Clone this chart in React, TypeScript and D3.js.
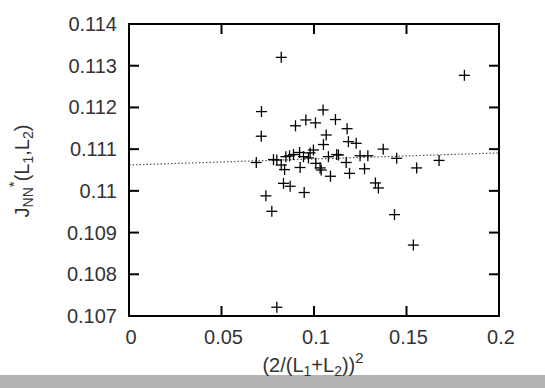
import React from "react";
import * as d3 from "d3";

const xs = [0.0823, 0.1813, 0.0716, 0.0715, 0.0688, 0.074, 0.0772, 0.0799, 0.09, 0.0956, 0.1008, 0.1049, 0.1116, 0.1179, 0.1066, 0.1051, 0.1186, 0.1228, 0.1374, 0.1447, 0.1676, 0.1555, 0.1435, 0.1537, 0.1332, 0.1348, 0.1273, 0.1291, 0.1249, 0.1192, 0.1174, 0.1123, 0.1132, 0.1089, 0.1033, 0.0997, 0.101, 0.1039, 0.1078, 0.0947, 0.0871, 0.0835, 0.0799, 0.0823, 0.0841, 0.0868, 0.0889, 0.0922, 0.0925, 0.0943, 0.097, 0.0979, 0.0848, 0.0781];
const ys = [0.1132, 0.11277, 0.1119, 0.11131, 0.11068, 0.10988, 0.10951, 0.10721, 0.11156, 0.1117, 0.11163, 0.11194, 0.11171, 0.11149, 0.11134, 0.11111, 0.11118, 0.11114, 0.111, 0.11078, 0.11073, 0.11055, 0.10943, 0.1087, 0.11019, 0.11007, 0.11053, 0.11084, 0.11084, 0.11042, 0.11068, 0.11087, 0.11086, 0.11035, 0.11055, 0.11098, 0.11066, 0.1105, 0.11082, 0.10996, 0.11011, 0.11018, 0.11074, 0.11062, 0.11051, 0.11084, 0.11087, 0.11092, 0.11056, 0.11082, 0.11079, 0.11091, 0.11082, 0.11075];

const fitX = [0, 0.2];
const fitY = [0.11062, 0.11091];

const xTicks = [0, 0.05, 0.1, 0.15, 0.2];
const xTickLabels = ["0", "0.05", "0.1", "0.15", "0.2"];
const yTicks = [0.107, 0.108, 0.109, 0.11, 0.111, 0.112, 0.113, 0.114];
const yTickLabels = ["0.107", "0.108", "0.109", "0.11", "0.111", "0.112", "0.113", "0.114"];

export default function App() {
  const W = 545, H = 388;
  const L = 129, R = 499, T = 24, B = 316;
  const x = d3.scaleLinear().domain([0, 0.2]).range([L, R]);
  const y = d3.scaleLinear().domain([0.107, 0.114]).range([B, T]);
  const line = d3.line<number>().x((_, i) => x(fitX[i])).y((_, i) => y(fitY[i]));
  const tl = 10;
  const arm = 5.5;
  const font = "'Liberation Sans', Arial, sans-serif";
  return (
    <svg width={W} height={H} style={{ position: "absolute", left: 0, top: 0, display: "block" }}>
      <rect x={0} y={0} width={W} height={H} fill="#fff" />
      <rect x={0} y={375} width={W} height={13} fill="#b4b4b4" />
      <path d={line(fitX) || ""} fill="none" stroke="#555" strokeWidth={1.2} strokeDasharray="1.5,2" />
      {xs.map((v, i) => (
        <g key={i} stroke="#000" strokeWidth={1.3}>
          <line x1={x(v) - arm} x2={x(v) + arm} y1={y(ys[i])} y2={y(ys[i])} />
          <line x1={x(v)} x2={x(v)} y1={y(ys[i]) - arm} y2={y(ys[i]) + arm} />
        </g>
      ))}
      {xTicks.slice(1, -1).map((t, i) => (
        <g key={"xt" + i} stroke="#000" strokeWidth={2}>
          <line x1={x(t)} x2={x(t)} y1={B} y2={B - tl} />
          <line x1={x(t)} x2={x(t)} y1={T} y2={T + tl} />
        </g>
      ))}
      {yTicks.slice(1, -1).map((t, i) => (
        <g key={"yt" + i} stroke="#000" strokeWidth={2}>
          <line x1={L} x2={L + tl} y1={y(t)} y2={y(t)} />
          <line x1={R} x2={R - tl} y1={y(t)} y2={y(t)} />
        </g>
      ))}
      <rect x={L} y={T} width={R - L} height={B - T} fill="none" stroke="#000" strokeWidth={2} />
      {xTicks.map((t, i) => (
        <text key={"xl" + i} x={x(t) + 2} y={344} textAnchor="middle" fontFamily={font} fontSize={20} fill="#333">
          {xTickLabels[i]}
        </text>
      ))}
      {yTicks.map((t, i) => (
        <text key={"yl" + i} x={117} y={y(t) + 7} textAnchor="end" fontFamily={font} fontSize={20} fill="#333">
          {yTickLabels[i]}
        </text>
      ))}
      <text x={313} y={372} textAnchor="middle" fontFamily={font} fontSize={20} fill="#333">
        (2/(L<tspan fontSize={14} dy={4}>1</tspan><tspan dy={-4}>+L</tspan><tspan fontSize={14} dy={4}>2</tspan><tspan dy={-4}>))</tspan><tspan fontSize={15} dy={-9}>2</tspan>
      </text>
      <text transform="translate(29,171) rotate(-90)" textAnchor="middle" fontFamily={font} fontSize={20} fill="#333">
        J<tspan fontSize={14} dy={4}>NN</tspan><tspan fontSize={15} dy={-14}>*</tspan><tspan dy={10}>(L</tspan><tspan fontSize={14} dy={4}>1</tspan><tspan dy={-4}>,L</tspan><tspan fontSize={14} dy={4}>2</tspan><tspan dy={-4}>)</tspan>
      </text>
    </svg>
  );
}
